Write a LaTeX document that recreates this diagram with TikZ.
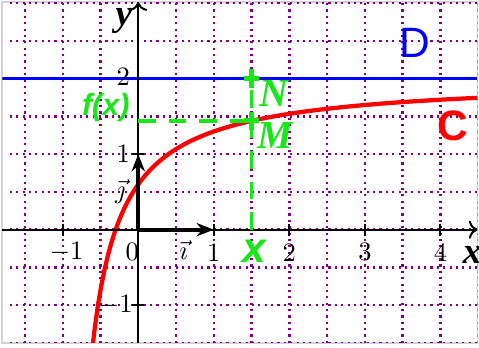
\documentclass[tikz,border=0pt]{standalone}
\usepackage{fontspec}
\newfontfamily\arialf{Liberation Sans}
\newfontfamily\timesf{Liberation Serif}
\usetikzlibrary{arrows.meta}
\definecolor{violette}{RGB}{128,0,128}
\definecolor{vert}{RGB}{25,230,25}
\definecolor{bleu}{RGB}{0,0,255}
\definecolor{rouge}{RGB}{255,0,0}

\begin{document}
\begin{tikzpicture}[x=1cm,y=1cm,
  grille/.style={violette, line width=0.9pt, dash pattern=on 0.8pt off 1.6pt},
  axe/.style={->, line width=0.75pt},
  vecteur/.style={-{Stealth[length=6.5pt,width=5pt]}, line width=1.6pt},
  tiret/.style={vert, line width=1.4pt, dash pattern=on 6.5pt off 5pt},
  croix/.style={vert, line width=1.8pt},
  nombre/.style={font=\fontsize{10}{11}\selectfont, inner sep=1pt},
  lettre/.style={font=\fontsize{14}{15}\selectfont\timesf\bfseries\itshape, inner sep=1pt}]
\useasboundingbox (-1.83,-1.56) rectangle (4.51,3.04);
\draw[gray!35, line width=0.7pt] (-1.8,-1.5) rectangle (4.49,3.01);
\begin{scope}
\clip (-1.8,-1.5) rectangle (4.49,3.01);
\draw[grille] (-1.7,-1.5) grid[step=0.5] (4.5,3);
\draw[bleu, line width=1.3pt] (-1.8,2) -- (4.49,2);
\draw[rouge, line width=1.6pt, domain=-0.62:4.5, samples=120] plot (\x,{2-1.4/(\x+1)});
\end{scope}
\coordinate (xg) at (-1.8,0);
\coordinate (xd) at (4.49,0);
\coordinate (yb) at (0,-1.5);
\coordinate (yh) at (0,3.01);
\draw[axe] (xg) -- (xd);
\draw[axe] (yb) -- (yh);
\foreach \k in {-1,1,2,3,4}
  \draw[line width=0.75pt] (\k,-0.08) -- (\k,0.08);
\foreach \k in {-1,1}
  \draw[line width=0.75pt] (-0.08,\k) -- (0.08,\k);
\coordinate (o) at (0,0);
\coordinate (i) at (1,0);
\coordinate (j) at (0,1);
\draw[vecteur] (o) -- (i);
\draw[vecteur] (o) -- (j);
\coordinate (X) at (1.5,0);
\coordinate (Y) at (0,1.44);
\coordinate (M) at (1.5,1.44);
\coordinate (N) at (1.5,2);
\draw[tiret] (X) -- (N);
\draw[tiret] (Y) -- (M);
\draw[croix] ([xshift=-0.1cm]M) -- ([xshift=0.1cm]M);
\draw[croix] ([yshift=-0.12cm]M) -- ([yshift=0.12cm]M);
\draw[croix] ([xshift=-0.1cm]N) -- ([xshift=0.1cm]N);
\draw[croix] ([yshift=-0.12cm]N) -- ([yshift=0.12cm]N);
\node[nombre] (ma) at (-0.95,-0.3) {$-1$};
\node[nombre] (z) at (-0.08,-0.3) {0};
\node[nombre] (ua) at (1,-0.3) {1};
\node[nombre] (da) at (2,-0.3) {2};
\node[nombre] (ta) at (3,-0.3) {3};
\node[nombre] (qa) at (4,-0.3) {4};
\node[nombre] (mo) at (-0.3,-1) {$-1$};
\node[nombre] (uo) at (-0.2,1) {1};
\node[nombre] (do) at (-0.2,2.02) {2};
\node[nombre] (vi) at (0.6,-0.27) {$\vec{\imath}$};
\node[nombre] (vj) at (-0.24,0.5) {$\vec{\jmath}$};
\node[lettre] (lx) at (4.42,-0.33) {x};
\node[lettre] (ly) at (-0.19,2.76) {y};
\node[lettre, vert, font=\fontsize{15}{16}\selectfont\timesf\bfseries\itshape] (lN) at (1.79,1.8) {N};
\node[lettre, vert, font=\fontsize{15}{16}\selectfont\timesf\bfseries\itshape] (lM) at (1.81,1.25) {M};
\node[vert, font=\fontsize{11.5}{12}\selectfont\arialf\bfseries\itshape, inner sep=1pt] (fx) at (-0.43,1.62) {f(x)};
\node[vert, font=\fontsize{16}{17}\selectfont\arialf\bfseries\itshape, inner sep=1pt] (vx) at (1.54,-0.28) {x};
\node[bleu, font=\fontsize{16}{17}\selectfont\arialf, inner sep=1pt] (D) at (3.66,2.47) {D};
\node[rouge, font=\fontsize{16}{17}\selectfont\arialf\bfseries, inner sep=1pt] (C) at (4.17,1.37) {C};
\end{tikzpicture}
\end{document}
